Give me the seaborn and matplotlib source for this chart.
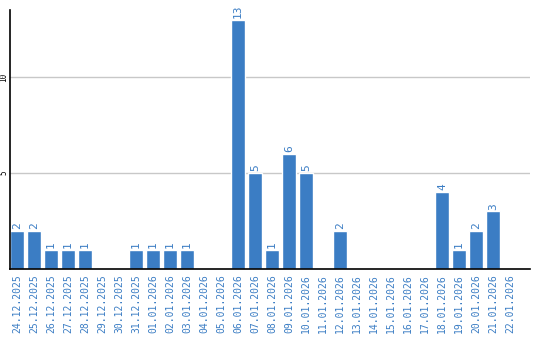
import matplotlib
matplotlib.use("Agg")
import matplotlib.pyplot as plt
import seaborn as sns
import pandas as pd

dates = ["24.12.2025", "25.12.2025", "26.12.2025", "27.12.2025", "28.12.2025",
         "29.12.2025", "30.12.2025", "31.12.2025", "01.01.2026", "02.01.2026",
         "03.01.2026", "04.01.2026", "05.01.2026", "06.01.2026", "07.01.2026",
         "08.01.2026", "09.01.2026", "10.01.2026", "11.01.2026", "12.01.2026",
         "13.01.2026", "14.01.2026", "15.01.2026", "16.01.2026", "17.01.2026",
         "18.01.2026", "19.01.2026", "20.01.2026", "21.01.2026", "22.01.2026"]
counts = [2, 2, 1, 1, 1, 0, 0, 1, 1, 1,
          1, 0, 0, 13, 5, 1, 6, 5, 0, 2,
          0, 0, 0, 0, 0, 4, 1, 2, 3, 0]
yticks = [5, 10]

BLUE = "#3b7dc4"

sns.set_theme(style="white")
plt.rcParams['font.family'] = ['DejaVu Sans Mono', 'DejaVu Sans']

df = pd.DataFrame({"date": dates, "count": counts})

fig = plt.figure(figsize=(5.4, 3.4), dpi=100)
ax = fig.add_axes([10/540, (340-269)/340, (530-10)/540, (269-10)/340])
sns.barplot(data=df, x="date", y="count", color=BLUE, saturation=1,
            width=0.82, ax=ax, order=dates)

ax.set_xlim(-0.41, 30.18)
ax.set_ylim(0, 13.5)
ax.set_yticks(yticks)
ax.set_yticklabels([str(t) for t in yticks], rotation=90, va="center",
                   fontsize=5.5, color="black")
ax.yaxis.grid(True, color="#c8c8c8", linewidth=1)
ax.set_axisbelow(True)
ax.tick_params(axis="y", length=0, pad=1)
ax.tick_params(axis="x", length=0, pad=4)
ax.set_xticks(range(len(dates)))
ax.set_xticklabels(dates, rotation=90, fontsize=7, color=BLUE)
ax.set_xlabel("")
ax.set_ylabel("")

for s in ["top", "right"]:
    ax.spines[s].set_visible(False)
for s in ["left", "bottom"]:
    ax.spines[s].set_color("black")
    ax.spines[s].set_linewidth(1.2)

for i, v in enumerate(counts):
    if v > 0:
        ax.text(i, v + 0.1, str(v), rotation=90, ha="center", va="bottom",
                fontsize=8, color=BLUE)

fig.savefig("out.png", dpi=100)
